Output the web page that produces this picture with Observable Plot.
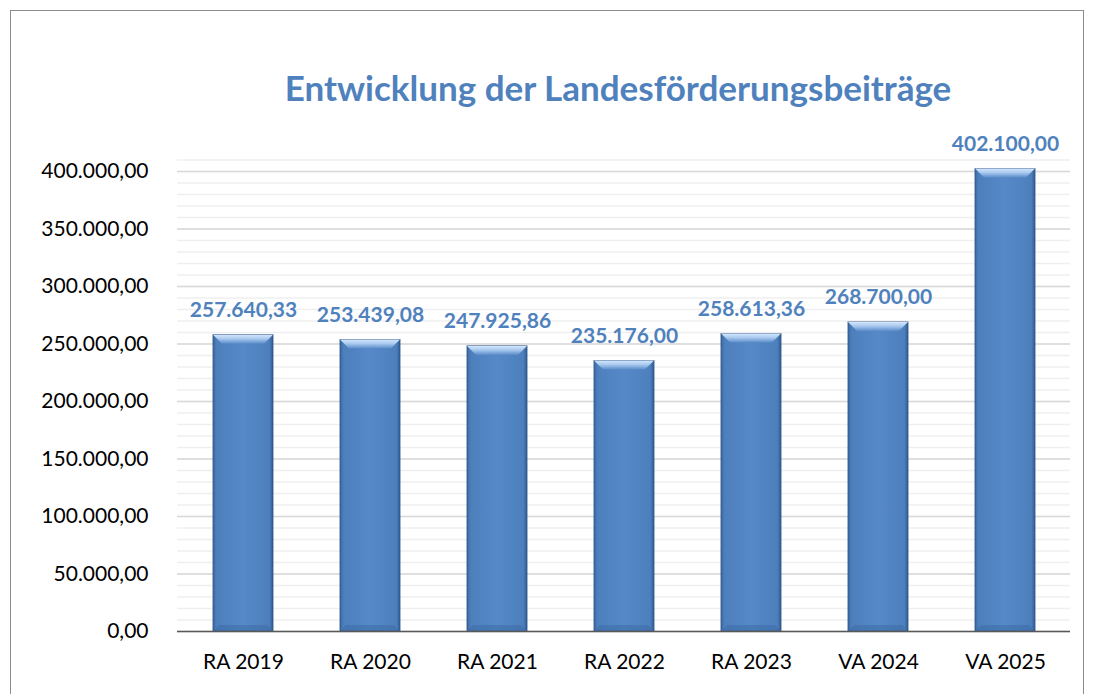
<!DOCTYPE html>
<html>
<head>
<meta charset="utf-8">
<script src="https://cdn.jsdelivr.net/npm/d3@7"></script>
<script src="https://cdn.jsdelivr.net/npm/@observablehq/plot@0.6"></script>
<style>
  html, body { margin: 0; padding: 0; background: #fff; overflow: hidden; }
  #wrap { position: relative; width: 1095px; height: 694px; overflow: hidden; }
  #frame { position: absolute; left: 10px; top: 10px; width: 1074px; height: 720px; border: 1px solid #8c8c8c; box-sizing: border-box; }
  #title { position: absolute; left: 618px; top: 70px; transform: translateX(-50%); white-space: nowrap;
           font-family: Lato, sans-serif; font-weight: bold; font-size: 35px; line-height: 35px; color: #4f81bd; }
  #chart { position: absolute; left: 0; top: 0; }
</style>
</head>
<body>
<div id="wrap">
  <div id="frame"></div>
  <div id="title">Entwicklung der Landesförderungsbeiträge</div>
  <div id="chart"></div>
</div>
<script>
const categories = ["RA 2019", "RA 2020", "RA 2021", "RA 2022", "RA 2023", "VA 2024", "VA 2025"];
const values = [257640.33, 253439.08, 247925.86, 235176.00, 258613.36, 268700.00, 402100.00];
const yTicks = [0, 50000, 100000, 150000, 200000, 250000, 300000, 350000, 400000];
const minorTicks = d3.range(0, 410001, 10000);

const data = categories.map((c, i) => ({cat: c, value: values[i]}));
const de = d3.formatLocale({decimal: ",", thousands: ".", grouping: [3], currency: ["", " €"]});
const fmt = de.format(",.2f");

// bevel overlay drawn from the plot's own scales
function bevels(index, scales, values, dimensions) {
  const ns = "http://www.w3.org/2000/svg";
  const g = document.createElementNS(ns, "g");
  const bw = scales.x.bandwidth();
  const bv = 9;
  for (const d of data) {
    const x0 = scales.x(d.cat), x1 = x0 + bw;
    const y0 = scales.y(d.value);
    const yb = scales.y(0);
    const top = document.createElementNS(ns, "polygon");
    top.setAttribute("points", `${x0},${y0} ${x1},${y0} ${x1 - bv},${y0 + bv} ${x0 + bv},${y0 + bv}`);
    top.setAttribute("fill", "url(#bevelTop)");
    g.appendChild(top);
    const bot = document.createElementNS(ns, "polygon");
    bot.setAttribute("points", `${x0},${yb} ${x1},${yb} ${x1 - 6},${yb - 6} ${x0 + 6},${yb - 6}`);
    bot.setAttribute("fill", "#3f6ea8");
    bot.setAttribute("fill-opacity", "0.6");
    g.appendChild(bot);
  }
  return g;
}

const plot = Plot.plot({
  width: 1095,
  height: 694,
  marginLeft: 177,
  marginRight: 25,
  marginTop: 159.5,
  marginBottom: 63,
  style: {fontFamily: "Lato, sans-serif", color: "#000", background: "transparent", overflow: "visible"},
  x: {domain: categories, paddingInner: 0.53, paddingOuter: 0.265, label: null, axis: null},
  y: {domain: [0, 410000], label: null, axis: null},
  marks: [
    Plot.gridY(minorTicks, {stroke: "#efefef", strokeOpacity: 1, strokeWidth: 1.5}),
    Plot.gridY(yTicks, {stroke: "#d9d9d9", strokeOpacity: 1, strokeWidth: 1.5}),
    Plot.barY(data, {x: "cat", y: "value", fill: "url(#barBody)", stroke: "#2f5587", strokeWidth: 1, strokeOpacity: 0.85}),
    bevels,
    Plot.ruleY([0], {stroke: "#595959", strokeWidth: 1.5}),
    Plot.axisY(yTicks, {tickSize: 0, tickPadding: 29, tickFormat: fmt, fontSize: 21, label: null}),
    Plot.axisX({tickSize: 0, tickPadding: 23, fontSize: 21, label: null}),
    Plot.text(data, {x: "cat", y: "value", text: d => fmt(d.value), dy: -25, fill: "#4f81bd", fontWeight: "bold", fontSize: 21})
  ]
});

const defs = d3.create("svg:defs");
const body = defs.append("linearGradient").attr("id", "barBody").attr("x1", "0").attr("x2", "1").attr("y1", "0").attr("y2", "0");
[["0%", "#3a69a3"], ["6%", "#4d7fbd"], ["50%", "#5689c8"], ["94%", "#4d7fbd"], ["100%", "#2f5c93"]].forEach(([o, c]) =>
  body.append("stop").attr("offset", o).attr("stop-color", c));
const bt = defs.append("linearGradient").attr("id", "bevelTop").attr("x1", "0").attr("x2", "0").attr("y1", "0").attr("y2", "1");
[["0%", "#d4e6fb"], ["45%", "#a9c9ef"], ["100%", "#5a8cc9"]].forEach(([o, c]) =>
  bt.append("stop").attr("offset", o).attr("stop-color", c));
plot.insertBefore(defs.node(), plot.firstChild);

document.getElementById("chart").appendChild(plot);
</script>
</body>
</html>
